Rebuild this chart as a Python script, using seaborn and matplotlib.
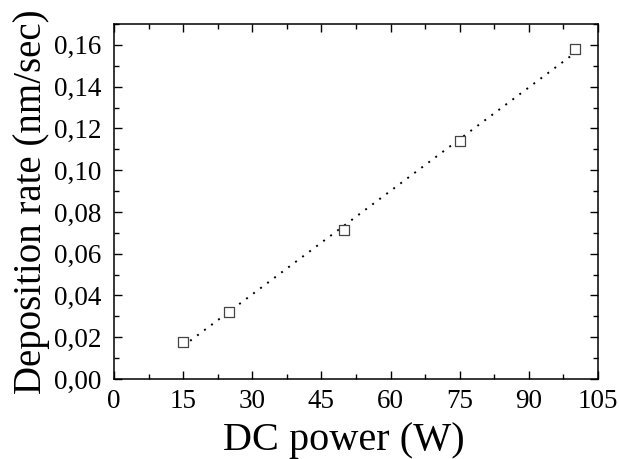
import matplotlib
matplotlib.use("Agg")
import matplotlib.pyplot as plt
import seaborn as sns
import numpy as np
import pandas as pd
from matplotlib.ticker import MultipleLocator, FuncFormatter

power = [15, 25, 50, 75, 100]
rate = [0.0177, 0.0320, 0.0712, 0.1140, 0.1578]
x_ticks = [0, 15, 30, 45, 60, 75, 90, 105]
y_ticks = [0.00, 0.02, 0.04, 0.06, 0.08, 0.10, 0.12, 0.14, 0.16]

df = pd.DataFrame({"power": power, "rate": rate})

sns.set_style("ticks")
plt.rcParams['font.family'] = ['Liberation Serif', 'DejaVu Serif']
plt.rcParams['mathtext.fontset'] = 'stix'
plt.rcParams['text.color'] = 'black'
plt.rcParams['axes.labelcolor'] = 'black'
plt.rcParams['xtick.color'] = 'black'
plt.rcParams['ytick.color'] = 'black'

fig = plt.figure(figsize=(6.19, 4.59), dpi=100)
ax = fig.add_axes([114/619, 1 - 379/459, (598-114)/619, (379-24)/459])

sns.regplot(data=df, x="power", y="rate", ax=ax, ci=None, truncate=True,
            scatter=False, line_kws=dict(color="black", linestyle=(0, (1, 3.5)), linewidth=1.4))
sns.scatterplot(data=df, x="power", y="rate", ax=ax, marker="s", s=55,
                facecolor="white", edgecolor="#444444", linewidth=0.9, zorder=5)

ax.set_xlim(0, 105)
ax.set_ylim(0, 0.17)
ax.set_xticks(x_ticks)
ax.set_yticks(y_ticks)
ax.xaxis.set_minor_locator(MultipleLocator(7.5))
ax.yaxis.set_minor_locator(MultipleLocator(0.01))
ax.yaxis.set_major_formatter(FuncFormatter(lambda v, p: f"{v:.2f}".replace(".", ",")))
ax.tick_params(which="both", direction="in", top=True, right=True, color="black", labelcolor="black")
ax.tick_params(which="major", length=6, width=1, labelsize=19.5)
ax.tick_params(axis="x", which="major", pad=7)
ax.tick_params(axis="y", which="major", pad=9)
ax.tick_params(which="minor", length=3.5, width=1)
for s in ax.spines.values():
    s.set_color("black")
    s.set_linewidth(1.1)

ax.set_xlabel("DC power (W)", fontsize=29, labelpad=3, color="black")
ax.xaxis.set_label_coords(0.475, -0.12, transform=ax.transAxes)
ax.xaxis.label.set_va("top")
ax.set_ylabel("Deposition rate (nm/sec)", fontsize=28, labelpad=3, color="black")

fig.savefig("out.png", dpi=100)
